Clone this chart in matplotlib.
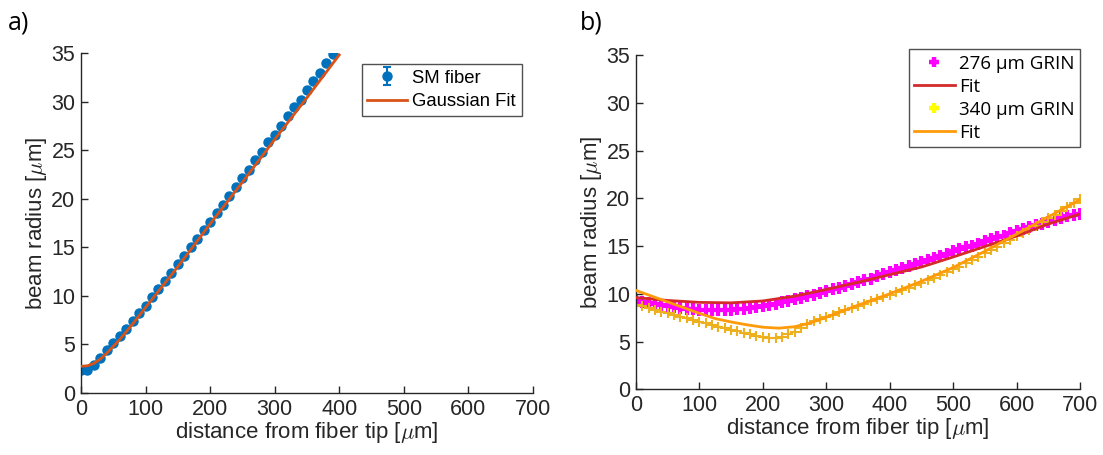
import matplotlib
matplotlib.use("Agg")
import matplotlib.pyplot as plt
from matplotlib.lines import Line2D
import numpy as np

plt.rcParams['font.family'] = ['Liberation Sans', 'DejaVu Sans']
plt.rcParams['mathtext.fontset'] = 'cm'

# ---- panel a): SM fiber ----
sm_z = np.arange(0, 400, 10)
sm_w = [2.4, 2.4, 2.9, 3.6, 4.4, 5.1, 5.9, 6.6, 7.4, 8.2,
        9.0, 9.9, 10.7, 11.5, 12.4, 13.3, 14.1, 15.0, 15.9, 16.8,
        17.6, 18.5, 19.4, 20.3, 21.2, 22.1, 23.0, 24.0, 24.8, 25.8,
        26.6, 27.5, 28.5, 29.4, 30.2, 31.2, 32.1, 32.9, 34.0, 34.9]
sm_err = 0.1

fit_a_z = [0, 10, 20, 30, 40, 50, 60, 80, 100, 150, 200, 250, 300, 350, 400]
fit_a_w = [2.75, 2.8, 3.05, 3.5, 4.1, 4.8, 5.5, 7.1, 8.8, 13.0, 17.4, 21.7, 26.1, 30.4, 34.8]

# ---- panel b): GRIN lenses ----
grin_z = np.arange(0, 710, 10)
grin276 = [9.2, 9.1, 9.0, 8.9, 8.8, 8.7, 8.6, 8.5, 8.42, 8.38,
           8.35, 8.32, 8.3, 8.3, 8.3, 8.32, 8.36, 8.42, 8.5, 8.6,
           8.72, 8.85, 8.98, 9.12, 9.28, 9.44, 9.6, 9.76, 9.92, 10.08,
           10.26, 10.45, 10.65, 10.84, 11.03, 11.22, 11.41, 11.6, 11.82, 12.04,
           12.26, 12.48, 12.7, 12.92, 13.14, 13.35, 13.55, 13.75, 13.95, 14.2,
           14.45, 14.65, 14.85, 15.05, 15.25, 15.5, 15.7, 15.9, 16.1, 16.35,
           16.55, 16.75, 16.95, 17.15, 17.35, 17.55, 17.75, 17.95, 18.1, 18.25,
           18.4]
grin340 = [8.85, 8.7, 8.5, 8.3, 8.13, 7.95, 7.77, 7.6, 7.42, 7.24,
           7.07, 6.9, 6.73, 6.56, 6.39, 6.22, 6.06, 5.9, 5.75, 5.6,
           5.48, 5.38, 5.35, 5.5, 5.75, 6.05, 6.45, 6.8, 7.1, 7.35,
           7.6, 7.83, 8.05, 8.28, 8.5, 8.74, 8.98, 9.2, 9.44, 9.68,
           9.92, 10.16, 10.4, 10.65, 10.9, 11.15, 11.4, 11.65, 11.95, 12.25,
           12.55, 12.85, 13.2, 13.55, 13.9, 14.25, 14.6, 14.95, 15.3, 15.65,
           16.0, 16.35, 16.7, 17.1, 17.5, 17.9, 18.3, 18.7, 19.1, 19.5,
           19.9]

fit276_z = [0, 50, 100, 150, 200, 250, 300, 350, 400, 450, 500, 550, 600, 650, 700]
fit276_w = [9.6, 9.3, 9.1, 9.05, 9.25, 9.75, 10.45, 11.2, 12.0, 12.8, 13.85, 14.95, 16.05, 17.3, 18.35]

fit340_z = [0, 25, 50, 75, 100, 125, 150, 175, 200, 225, 250, 275, 300,
            350, 400, 450, 500, 550, 600, 650, 700]
fit340_w = [10.35, 9.75, 9.15, 8.55, 7.95, 7.4, 7.05, 6.75, 6.5, 6.4, 6.55, 6.95, 7.55,
            8.8, 10.0, 11.3, 12.75, 14.45, 16.25, 18.05, 19.85]

xticks = [0, 100, 200, 300, 400, 500, 600, 700]
yticks = [0, 5, 10, 15, 20, 25, 30, 35]

fig = plt.figure(figsize=(11.03, 4.55), dpi=100)
ax1 = fig.add_axes([0.0734, 0.1363, 0.4098, 0.7473])
ax2 = fig.add_axes([0.5766, 0.1444, 0.4025, 0.7347])

axis_col = '#262626'


def style(ax):
    ax.set_xlim(0, 700)
    ax.set_ylim(0, 35)
    ax.set_xticks(xticks)
    ax.set_yticks(yticks)
    for s in ['top', 'right']:
        ax.spines[s].set_visible(False)
    for s in ['left', 'bottom']:
        ax.spines[s].set_color(axis_col)
        ax.spines[s].set_linewidth(1.0)
    ax.tick_params(direction='in', length=5, width=1.0, colors=axis_col,
                   labelsize=15.5, labelcolor=axis_col, pad=4)
    ax.set_xlabel(r'distance from fiber tip [$\mu$m]', fontsize=16, color=axis_col, labelpad=0)
    ax.set_ylabel(r'beam radius [$\mu$m]', fontsize=16, color=axis_col, labelpad=2)


style(ax1)
style(ax2)

# panel a
eb = ax1.errorbar(sm_z, sm_w, yerr=sm_err, fmt='o', color='#0072BD', ms=6.5,
                  capsize=3, elinewidth=1.5, capthick=1.5, zorder=2)
fl, = ax1.plot(fit_a_z, fit_a_w, color='#D95319', lw=2, zorder=3)
leg1 = ax1.legend([eb, fl], ['SM fiber', 'Gaussian Fit'], loc='upper left',
                  bbox_to_anchor=(0.621, 0.967), fontsize=13.3,
                  frameon=True, fancybox=False, edgecolor='#262626',
                  handlelength=2.15, borderpad=0.3, labelspacing=0.35,
                  handletextpad=0.3, borderaxespad=0)
leg1.get_frame().set_linewidth(1.0)

# panel b
ax2.plot(grin_z, grin276, ls='none', marker='+', ms=8, mew=3.0, color='#FF00FF', zorder=2)
ax2.plot(fit276_z, fit276_w, color='#D42A2A', lw=2, zorder=3)
ax2.plot(grin_z, grin340, ls='none', marker='+', ms=7.5, mew=1.5, color='#EDB120', zorder=2)
ax2.plot(fit340_z, fit340_w, color='#FF9A0A', lw=2, zorder=3)

handles = [
    Line2D([], [], ls='none', marker='+', ms=6.5, mew=3.2, color='#FF00FF'),
    Line2D([], [], color='#D42A2A', lw=2),
    Line2D([], [], ls='none', marker='+', ms=6.5, mew=3.2, color='#FFFF00'),
    Line2D([], [], color='#FF9A0A', lw=2),
]
labels = ['276 μm GRIN', 'Fit', '340 μm GRIN', 'Fit']
leg2 = ax2.legend(handles, labels, loc='upper left', bbox_to_anchor=(0.614, 1.018),
                  prop={'family': ['Open Sans', 'DejaVu Sans'], 'size': 13.5},
                  frameon=True, fancybox=False, edgecolor='#262626',
                  handlelength=2.15, borderpad=0.3, labelspacing=0.27,
                  handletextpad=0.25, borderaxespad=0)
leg2.get_frame().set_linewidth(1.0)

fig.text(8 / 1103, 1 - 29 / 455, 'a)', fontsize=18, color='black', va='baseline',
         family=['Open Sans', 'DejaVu Sans'])
fig.text(580 / 1103, 1 - 29 / 455, 'b)', fontsize=18, color='black', va='baseline',
         family=['Open Sans', 'DejaVu Sans'])

fig.savefig('out.png', dpi=100)
